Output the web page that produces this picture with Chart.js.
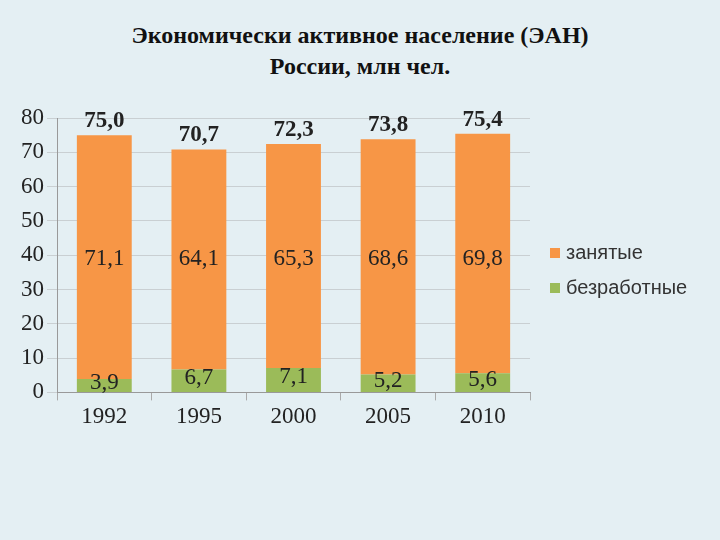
<!DOCTYPE html><html><head><meta charset="utf-8">
<script src="https://cdn.jsdelivr.net/npm/chart.js@4"></script>
<style>html,body{margin:0;background:#e4eff3;}#w{position:absolute;left:0;top:100px;width:720px;height:440px;}
h1{position:absolute;top:20px;left:0;width:720px;margin:0;text-align:center;font:bold 24px "Liberation Serif";line-height:31px;color:#111;}</style></head><body>
<h1>Экономически активное население (ЭАН)<br>России, млн чел.</h1>
<div id="w"><canvas id="c"></canvas></div>
<script>
const years=["1992","1995","2000","2005","2010"];
const employed=[71.1,64.1,65.3,68.6,69.8];
const unemployed=[3.9,6.7,7.1,5.2,5.6];
const totals=["75,0","70,7","72,3","73,8","75,4"];
const yTicks=[0,10,20,30,40,50,60,70,80];
const fmt=v=>String(v).replace('.',',');
const labels={id:'lb',afterDatasetsDraw(ch){const c=ch.ctx,x=ch.scales.x,y=ch.scales.y;c.save();c.textAlign='center';c.textBaseline='middle';c.fillStyle='#222';
years.forEach((yr,i)=>{const px=x.getPixelForValue(i);const tot=employed[i]+unemployed[i];
c.font='bold 23px "Liberation Serif"';c.fillText(totals[i],px,y.getPixelForValue(tot)-14);
c.font='23px "Liberation Serif"';c.fillText(fmt(employed[i]),px,y.getPixelForValue(39));
c.fillText(fmt(unemployed[i]),px,y.getPixelForValue(unemployed[i]/2)-3);});
const lx=550;const items=[["занятые","#f79646",253],["безработные","#9bbb59",288]];
c.textAlign='left';c.font='20px "Liberation Sans"';items.forEach(([t,col,yy])=>{c.fillStyle=col;c.fillRect(lx,yy-100-5,10,10);c.fillStyle='#333';c.fillText(t,lx+16,yy-100);});c.restore();}};
new Chart(document.getElementById('c'),{type:'bar',data:{labels:years,datasets:[
{label:'безработные',data:unemployed,backgroundColor:'#9bbb59'},
{label:'занятые',data:employed,backgroundColor:'#f79646'}]},
options:{responsive:true,maintainAspectRatio:false,animation:false,
layout:{padding:{left:18,right:190,top:18,bottom:106}},
plugins:{legend:{display:false},tooltip:{enabled:false}},
datasets:{bar:{barPercentage:0.58,categoryPercentage:1}},
scales:{x:{stacked:true,grid:{display:true,drawOnChartArea:false,offset:true,tickLength:8,color:'#aaa'},border:{color:'#999'},ticks:{color:'#222',font:{family:'Liberation Serif',size:23}}},
y:{stacked:true,min:0,max:80,afterBuildTicks:a=>{a.ticks=yTicks.map(v=>({value:v}));},grid:{color:'#c9cfd2',tickLength:10},border:{color:'#999'},ticks:{color:'#222',font:{family:'Liberation Serif',size:23}}}}},
plugins:[labels]});
</script></body></html>
